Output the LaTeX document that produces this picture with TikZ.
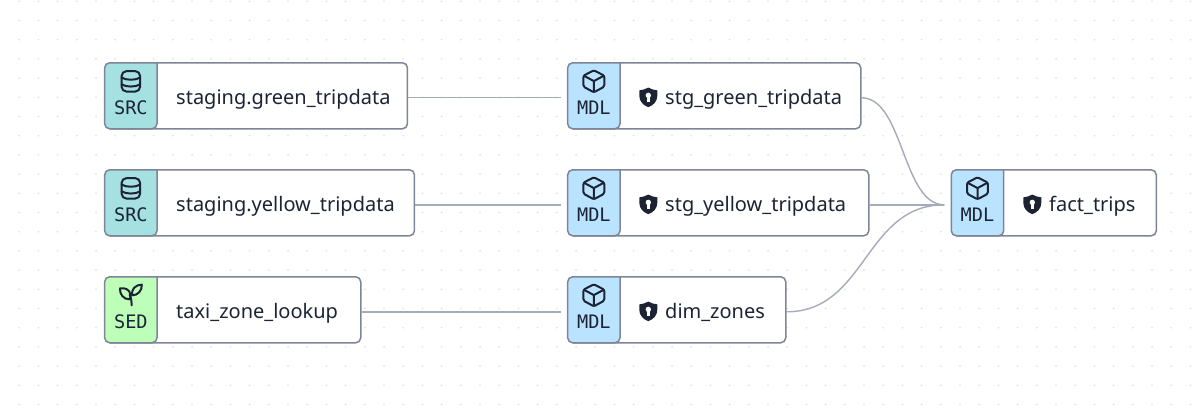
\documentclass[tikz,border=0pt]{standalone}
\usepackage{fontspec}
\usetikzlibrary{calc}
\setmainfont{Noto Sans}
\newfontfamily\tagfont{DejaVu Sans Mono}
\definecolor{ink}{HTML}{1C2434}
\definecolor{edgeline}{HTML}{A6ABBA}
\definecolor{frame}{HTML}{7E8596}
\definecolor{griddot}{HTML}{DEDEDE}
\definecolor{srcfill}{HTML}{A5E1E1}
\definecolor{sedfill}{HTML}{BDFFB9}
\definecolor{mdlfill}{HTML}{B9E3FF}
\tikzset{
  bodybox/.style={draw=frame,fill=white,line width=1.5pt,rounded corners=5pt,minimum height=66pt,inner sep=0pt,anchor=west},
  hdrshape/.style={draw=frame,line width=1.5pt,line join=round},
  taglabel/.style={font=\tagfont\fontsize{18.6}{18}\selectfont,text=ink,anchor=base,inner sep=0pt},
  mainlabel/.style={font=\fontsize{20}{20}\selectfont,text=ink,anchor=base west,inner sep=0pt},
  link/.style={draw=edgeline,line width=1.4pt},
  icon/.style={draw=ink,line width=2pt,line join=round,line cap=round},
}
\newcommand{\dbicon}{%
  \draw[icon,rounded corners=5pt] (-9.3,-10) rectangle (9.3,10.5);
  \draw[icon] (-9.3,-3.6) .. controls (-5,-0.6) and (5,-0.6) .. (9.3,-3.6);
  \draw[icon] (-9.3,3.2) .. controls (-5,6.2) and (5,6.2) .. (9.3,3.2);
}
\newcommand{\cubeicon}{%
  \draw[icon,rounded corners=1.5pt] (0,-10.8) -- (10.4,-5.4) -- (10.4,5.6) -- (0,11.2) -- (-10.4,5.6) -- (-10.4,-5.4) -- cycle;
  \draw[icon] (-10,-5.4) -- (0,0) -- (10,-5.4) (0,0) -- (0,10.8);
}
\newcommand{\sprouticon}{%
  \draw[icon] (-1.2,4.2) .. controls (-7.5,4.6) and (-11.5,-1.5) .. (-10.8,-6.8) .. controls (-6,-7.6) and (-0.8,-5.5) .. (-0.4,-0.2) .. controls (-0.3,1.5) and (-0.6,3) .. (-1.2,4.2);
  \draw[icon] (1.2,0.2) .. controls (0.2,-6) and (5,-10.6) .. (11,-10.4) .. controls (11.2,-4.5) and (7,0.4) .. (1.2,0.2);
  \draw[icon] (0.9,10.2) .. controls (0.9,6.5) and (0.2,2.5) .. (-1.2,-0.4);
}
\newcommand{\shieldicon}{%
  \fill[ink] (0,-9.8) .. controls (3,-8.3) and (6,-7.2) .. (9,-7) -- (9,-1.5) .. controls (9,4) and (5,8) .. (0,9.8) .. controls (-5,8) and (-9,4) .. (-9,-1.5) -- (-9,-7) .. controls (-6,-7.2) and (-3,-8.3) .. (0,-9.8) -- cycle;
  \fill[white] (0,-2) circle (2.7);
  \fill[white] (-1.2,-1) rectangle (1.2,4.2);
}
% name, left, top, width, split, header colour, tag, icon, label part
\newcommand{\card}[9]{%
  \node[bodybox,minimum width=#4pt] (#1) at (#2,#3+33) {};
  \draw[hdrshape,fill=#6,rounded corners=5pt] (#5,#3) -- (#2,#3) -- (#2,#3+66) -- (#5,#3+66) [sharp corners] -- cycle;
  \node[taglabel] (#1-tag) at ({(#2+#5)/2},#3+51.5) {#7};
  \begin{scope}[shift={({(#2+#5)/2},#3+18.3)}]#8\end{scope}
  #9
  \coordinate (#1-in) at ($(#1.west)+(-7,2)$);
  \coordinate (#1-out) at ($(#1.east)+(0,2)$);
}
\begin{document}
\begin{tikzpicture}[x=1pt,y=-1pt]
\useasboundingbox (0,0) rectangle (1202,409);
\foreach \i in {1,...,62}{\foreach \j in {0,...,21}{\fill[griddot] ({19.2*\i},{1.3+19.2*\j}) circle (0.9);}}

\card{grn}{104.7}{62.8}{302}{157}{srcfill}{SRC}{\dbicon}{\node[mainlabel] (grn-t) at (176,104.3) {staging.green\_tripdata};}
\card{ylw}{104.7}{169.8}{309}{157}{srcfill}{SRC}{\dbicon}{\node[mainlabel] (ylw-t) at (176,211.3) {staging.yellow\_tripdata};}
\card{sed}{104.7}{276.8}{255.3}{157}{sedfill}{SED}{\sprouticon}{\node[mainlabel] (sed-t) at (176,318.3) {taxi\_zone\_lookup};}

\card{sgrn}{567.7}{62.8}{292.3}{620}{mdlfill}{MDL}{\cubeicon}{\begin{scope}[shift={(648.3,97.4)}]\shieldicon\end{scope}\node[mainlabel] (sgrn-t) at (665,104.3) {stg\_green\_tripdata};}
\card{sylw}{567.7}{169.8}{300.3}{620}{mdlfill}{MDL}{\cubeicon}{\begin{scope}[shift={(648.3,204.4)}]\shieldicon\end{scope}\node[mainlabel] (sylw-t) at (665,211.3) {stg\_yellow\_tripdata};}
\card{dim}{567.7}{276.8}{217.3}{620}{mdlfill}{MDL}{\cubeicon}{\begin{scope}[shift={(648.3,311.4)}]\shieldicon\end{scope}\node[mainlabel] (dim-t) at (665,318.3) {dim\_zones};}
\card{fact}{951.3}{169.8}{204.2}{1003.7}{mdlfill}{MDL}{\cubeicon}{\begin{scope}[shift={(1032.3,204.4)}]\shieldicon\end{scope}\node[mainlabel] (fact-t) at (1049,211.3) {fact\_trips};}

\draw[link] (grn-out) -- (sgrn-in);
\draw[link] (ylw-out) -- (sylw-in);
\draw[link] (sed-out) -- (dim-in);
\draw[link] (sylw-out) -- (fact-in);
\draw[link] (sgrn-out) .. controls +(42,0) and +(-42,0) .. (fact-in);
\draw[link] (dim-out) .. controls +(80,0) and +(-80,0) .. (fact-in);
\end{tikzpicture}
\end{document}
